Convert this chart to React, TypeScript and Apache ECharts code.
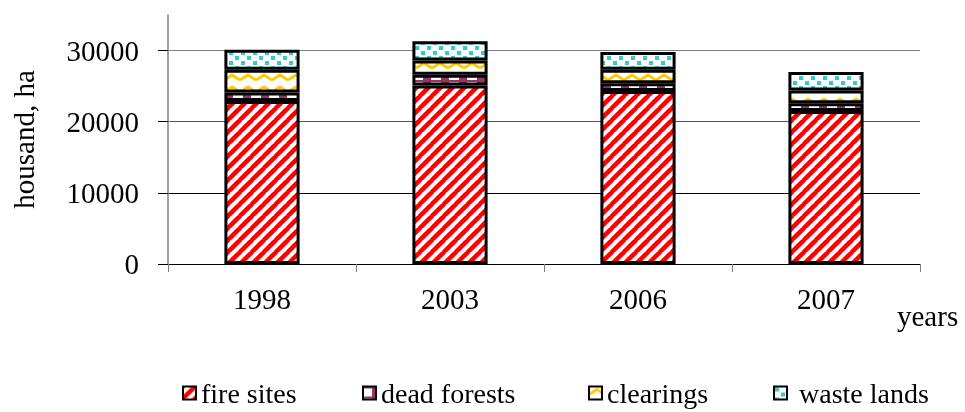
import React, { useEffect, useRef } from 'react';
import * as echarts from 'echarts';

const years = ['1998', '2003', '2006', '2007'];
const fireSites = [22900, 25100, 24300, 21500];
const deadForests = [1200, 1500, 1100, 1100];
const clearings = [3200, 2000, 1900, 1800];
const wasteLands = [2800, 2700, 2500, 2600];
const yTickValues = [0, 10000, 20000, 30000];
const seriesNames = ['fire sites', 'dead forests', 'clearings', 'waste lands'];

const FONT = '"Liberation Serif", "Times New Roman", serif';

function makeTile(w: number, h: number, draw: (ctx: CanvasRenderingContext2D, w: number, h: number) => void) {
  const c = document.createElement('canvas');
  c.width = w;
  c.height = h;
  const ctx = c.getContext('2d')!;
  ctx.fillStyle = '#ffffff';
  ctx.fillRect(0, 0, w, h);
  draw(ctx, w, h);
  return { image: c.toDataURL(), repeat: 'repeat', imageWidth: w, imageHeight: h } as any;
}

function buildPatterns() {
  const fire = makeTile(12, 12, (ctx, s) => {
    ctx.strokeStyle = '#ff0000';
    ctx.lineWidth = 4.5;
    for (const x0 of [-s, 0, s]) {
      ctx.beginPath();
      ctx.moveTo(x0 - 1, s + 1);
      ctx.lineTo(x0 + s + 1, -1);
      ctx.stroke();
    }
  });
  const dead = makeTile(18, 10, (ctx) => {
    ctx.fillStyle = '#993366';
    ctx.fillRect(0, 0, 18, 2);
    ctx.fillRect(9, 2, 8, 8);
  });
  const clear = makeTile(16, 12, (ctx) => {
    ctx.strokeStyle = '#ffcc00';
    ctx.lineWidth = 3;
    ctx.beginPath();
    ctx.moveTo(0, 8);
    ctx.lineTo(8, 3);
    ctx.lineTo(16, 8);
    ctx.stroke();
  });
  const waste = makeTile(12, 10, (ctx) => {
    ctx.fillStyle = '#33cccc';
    ctx.fillRect(1, 1, 4, 4);
    ctx.fillRect(7, 6, 4, 4);
  });
  return [fire, dead, clear, waste];
}

export default function App() {
  const ref = useRef<HTMLDivElement>(null);
  useEffect(() => {
    if (!ref.current) return;
    const chart = echarts.init(ref.current, undefined, { renderer: 'svg' });
    const patterns = buildPatterns();
    const values = [fireSites, deadForests, clearings, wasteLands];
    const legendLefts = [182, 362, 588, 773];
    const option: any = {
      animation: false,
      textStyle: { fontFamily: FONT, color: '#000' },
      grid: { left: 168, right: 45, top: 15, bottom: 148, containLabel: false, outerBoundsMode: 'none' },
      legend: seriesNames.map((n, i) => ({
        data: [n],
        left: legendLefts[i],
        top: 379,
        itemWidth: 13,
        itemHeight: 13,
        icon: 'rect',
        padding: 0,
        formatter: i === 3 ? (name: string) => ' ' + name : undefined,
        itemStyle: { borderColor: '#000', borderWidth: 2 },
        textStyle: { fontFamily: FONT, fontSize: 28, lineHeight: 26, color: '#000' },
        selectedMode: false,
      })),
      xAxis: {
        type: 'category',
        data: years,
        boundaryGap: true,
        name: 'years',
        nameLocation: 'end',
        nameGap: -23,
        nameTextStyle: { fontFamily: FONT, fontSize: 29, color: '#000', align: 'left', verticalAlign: 'top', padding: [37, 0, 0, 0] },
        axisLine: { show: true, lineStyle: { color: '#000', width: 1 } },
        axisTick: { show: true, alignWithLabel: false, length: 8, inside: false, lineStyle: { color: '#808080' } },
        axisLabel: { fontFamily: FONT, fontSize: 29, color: '#000', margin: 20 },
        splitLine: { show: false },
      },
      yAxis: {
        type: 'value',
        min: 0,
        max: 35000,
        interval: 10000,
        name: 'housand, ha',
        nameLocation: 'middle',
        nameGap: 130,
        nameTextStyle: { fontFamily: FONT, fontSize: 29, color: '#000' },
        axisLine: { show: true, lineStyle: { color: '#808080', width: 1.5 } },
        axisTick: { show: true, length: 10, inside: false, customValues: yTickValues, lineStyle: { color: '#000' } },
        axisLabel: {
          fontFamily: FONT,
          fontSize: 29,
          color: '#000',
          margin: 29,
          customValues: yTickValues,
          formatter: (v: number) => (yTickValues.indexOf(v) >= 0 ? String(v) : ''),
        },
        splitLine: {
          show: true,
          lineStyle: { color: ['#000', '#000', '#555', '#808080', 'rgba(0,0,0,0)'], width: 1 },
        },
      },
      series: seriesNames.map((n, i) => ({
        name: n,
        type: 'bar',
        stack: 'total',
        barWidth: '40%',
        data: values[i],
        itemStyle: { color: patterns[i], borderColor: '#000', borderWidth: 3 },
        emphasis: { disabled: true },
      })),
    };
    chart.setOption(option);
    return () => chart.dispose();
  }, []);
  return <div ref={ref} style={{ position: 'fixed', left: 0, top: 0, width: 965, height: 412 }} />;
}
